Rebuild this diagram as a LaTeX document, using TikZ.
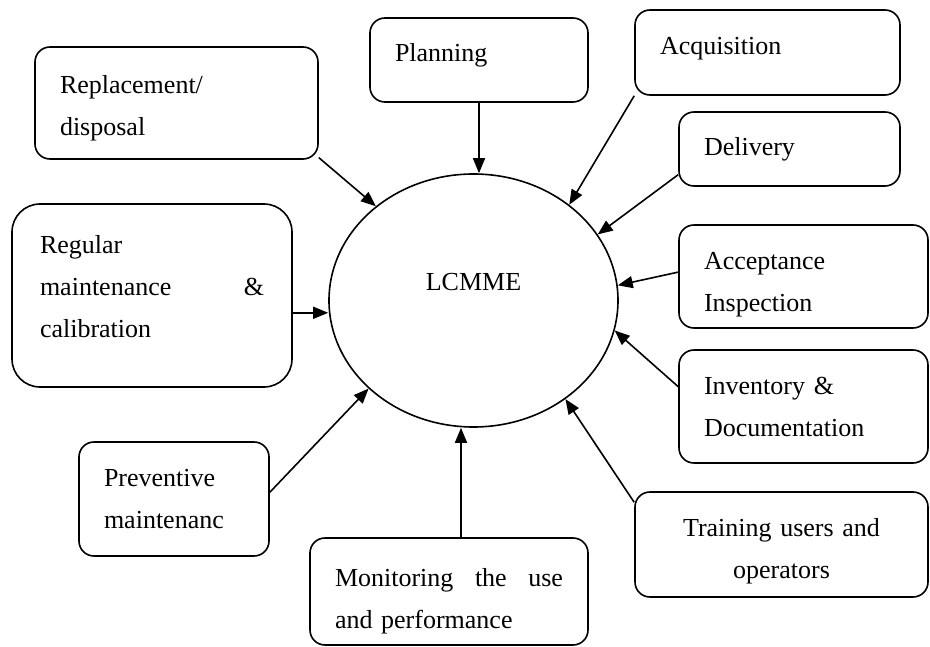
\documentclass[tikz,border=0pt]{standalone}
\usepackage{fontspec}
\setmainfont{Liberation Serif}
\usetikzlibrary{arrows.meta,shapes.geometric}

\begin{document}
\begin{tikzpicture}[
  x=1pt, y=-1pt,
  font=\fontsize{26}{42}\selectfont,
  box/.style={draw, line width=1.6pt, rounded corners=15pt, align=left,
              inner xsep=25pt, inner ysep=0pt},
  hub/.style={draw, ellipse, line width=1.6pt, inner sep=0pt,
              minimum width=289pt, minimum height=253pt,
              text height=17pt, text depth=36pt},
  arr/.style={-{Triangle[length=15pt, width=12pt]}, line width=1.6pt},
]
\useasboundingbox (0,0) rectangle (930,647);

% The centre: the life cycle itself.
\node[hub] (lc) at (473.5,300.5) {LCMME};

% The stages round it, clockwise from the top left.
\node[box, text width=233pt, minimum height=112pt] (repl) at (176.5,103) {\rule{0pt}{28pt}Replacement/\\disposal};
\node[box, text width=168pt, minimum height=84pt, text height=18pt, text depth=14pt] (plan) at (479,60) {Planning};
\node[box, text width=215pt, minimum height=85pt, text height=18pt, text depth=13pt] (acq) at (767.5,52.5) {Acquisition};
\node[box, text width=171pt, minimum height=74pt] (deliv) at (789.5,149) {Delivery};
\node[box, text width=199pt, minimum height=103pt] (accept) at (803.5,276.5) {\rule{0pt}{34pt}Acceptance\\Inspection};
\node[box, text width=199pt, minimum height=113pt] (inv) at (803.5,406.5) {Inventory \&\\Documentation};
\node[box, align=center, text width=243pt, minimum height=105pt] (train) at (781.5,544.5) {\rule{0pt}{32pt}Training users and\\operators};
\node[box, text width=228pt, minimum height=107pt] (monit) at (449,591.5) {\rule{0pt}{38pt}Monitoring\hfill the\hfill use\\and performance};
\node[box, text width=140pt, minimum height=114pt] (prev) at (174,499) {Preventive\\maintenanc};
\node[box, rounded corners=28pt, inner xsep=28pt, text width=224pt, minimum height=183pt] (reg) at (152,295.5)
  {Regular\\maintenance\hfill\&\\calibration\rule[-18pt]{0pt}{0pt}};

% Every stage feeds the centre.
\draw[arr] (repl.-21) -- (lc.136.7);
\draw[arr] (plan.south) -- (plan.south |- lc.north);
\draw[arr] (acq.198) -- (lc.45.6);
\draw[arr] (deliv.193) -- (lc.28.1);
\draw[arr] (accept.178) -- (lc.6.9);
\draw[arr] (inv.171) -- (lc.-12.2);
\draw[arr] (train.164) -- (lc.-47.3);
\draw[arr] ([xshift=12pt]monit.north) -- ([xshift=12pt]monit.north |- lc.south);
\draw[arr] (prev.4) -- (lc.220.2);
\draw[arr] (reg.-7) -- (reg.-7 -| lc.west);

\end{tikzpicture}
\end{document}
